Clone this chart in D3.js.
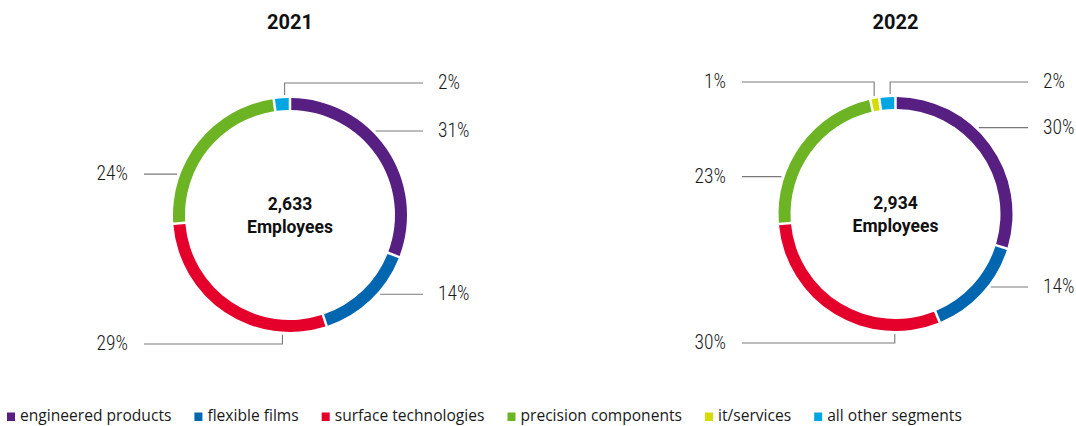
<!DOCTYPE html>
<html>
<head>
<meta charset="utf-8">
<script src="https://cdn.jsdelivr.net/npm/d3@7"></script>
<style>
  html, body { margin: 0; padding: 0; background: #fff; }
  svg { display: block; }
</style>
</head>
<body>
<svg id="chart" width="1076" height="426"></svg>
<script>
// Workforce by segment, two years side by side
const categories = ["engineered products", "flexible films", "surface technologies", "precision components", "it/services", "all other segments"];
const colors = ["#581f82", "#0066b0", "#e4002b", "#6cb424", "#d4dc00", "#00a6e2"];
const years = ["2021", "2022"];
const employeeTotals = ["2,633", "2,934"];
const share2021 = [31, 14, 29, 24, 0, 2];
const share2022 = [30, 14, 30, 23, 1, 2];

// where along each slice its leader line leaves the ring, and which side its label sits on
const leaderFrac = [0.41, 0.4, 0.21, 0.28, 0.5, 0.68];
const labelSide = ["right", "right", "left", "left", "left", "right"];

const svg = d3.select("#chart");
const labelFont = "'Roboto Condensed', 'Liberation Sans Narrow', 'DejaVu Sans Condensed', sans-serif";
const boldFont = "Roboto, 'Liberation Sans', sans-serif";

const rOut = 117, rIn = 105;
const panels = [
  { year: years[0], total: employeeTotals[0], values: share2021, cx: 290, cy: 215, leftEnd: 144, rightEnd: 423 },
  { year: years[1], total: employeeTotals[1], values: share2022, cx: 895.5, cy: 214, leftEnd: 742, rightEnd: 1028 }
];

const pie = d3.pie().sort(null).value(d => d.value).padAngle(0.016);
const arc = d3.arc().innerRadius(rIn).outerRadius(rOut);

panels.forEach(p => {
  const rows = categories.map((c, i) => ({ cat: c, idx: i, value: p.values[i] })).filter(d => d.value > 0);
  const g = svg.append("g").attr("transform", `translate(${p.cx},${p.cy})`);

  g.selectAll("path.slice")
    .data(pie(rows))
    .join("path")
    .attr("class", "slice")
    .attr("d", arc)
    .attr("fill", d => colors[d.data.idx]);

  // year title
  svg.append("text")
    .attr("x", p.cx).attr("y", 29)
    .attr("text-anchor", "middle")
    .attr("font-family", boldFont).attr("font-weight", 700).attr("font-size", 20)
    .attr("fill", "#111")
    .text(p.year);

  // centre caption
  const cap = g.append("text")
    .attr("text-anchor", "middle")
    .attr("font-family", boldFont).attr("font-weight", 700).attr("font-size", 17.5)
    .attr("fill", "#111");
  cap.append("tspan").attr("x", 0).attr("y", -5).text(p.total);
  cap.append("tspan").attr("x", 0).attr("y", 18).text("Employees");

  // leader lines and percentage labels
  const rl = rOut + 3;
  pie(rows).forEach(d => {
    const i = d.data.idx;
    const a = d.startAngle + leaderFrac[i] * (d.endAngle - d.startAngle);
    const ax = rl * Math.sin(a), ay = -rl * Math.cos(a);
    const side = labelSide[i];
    const endX = (side === "right" ? p.rightEnd : p.leftEnd) - p.cx;
    let pts, ly;
    if (Math.cos(a) > 0.95) {
      ly = -rOut - 15;
      pts = [[ax, ay], [ax, ly], [endX, ly]];
    } else if (Math.cos(a) < -0.95) {
      ly = rOut + 12;
      pts = [[ax, ay], [ax, ly], [endX, ly]];
    } else {
      ly = ay;
      pts = [[ax, ay], [endX, ly]];
    }
    g.append("path")
      .attr("d", d3.line()(pts))
      .attr("fill", "none")
      .attr("stroke", "#7a7a7a")
      .attr("stroke-width", 1.1);
    g.append("text")
      .attr("x", side === "right" ? endX + 15 : endX - 16)
      .attr("y", ly + 6)
      .attr("text-anchor", side === "right" ? "start" : "end")
      .attr("font-family", labelFont).attr("font-weight", 300).attr("font-size", 19.5)
      .attr("fill", "#1a1a1a")
      .text(d.data.value + "%");
  });
});

// legend
const legend = svg.append("g").attr("transform", "translate(7,421)");
let lx = 0;
categories.forEach((c, i) => {
  legend.append("rect")
    .attr("x", lx).attr("y", -8.5)
    .attr("width", 8).attr("height", 8.5)
    .attr("fill", colors[i]);
  const t = legend.append("text")
    .attr("x", lx + 13).attr("y", 0)
    .attr("font-family", "'Open Sans', sans-serif").attr("font-size", 15.6)
    .attr("fill", "#1a1a1a")
    .text(c);
  lx += 13 + t.node().getComputedTextLength() + 23;
});
</script>
</body>
</html>
